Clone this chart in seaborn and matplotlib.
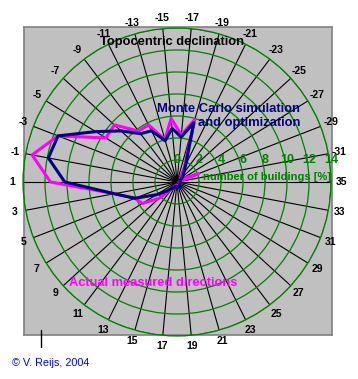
import numpy as np
import pandas as pd
import seaborn as sns
import matplotlib
matplotlib.use('Agg')
import matplotlib.pyplot as plt
from matplotlib.transforms import ScaledTranslation
from matplotlib.lines import Line2D

# declination categories, counter-clockwise starting just above east
declination = [-31, -29, -27, -25, -23, -21, -19, -17, -15, -13, -11, -9, -7, -5, -3, -1,
               1, 3, 5, 7, 9, 11, 13, 15, 17, 19, 21, 23, 25, 27, 29, 31, 33, 35]

# percentage of buildings per declination
measured = [0.2, 2.1, 0.5, 0.4, 0.6, 1.5, 5.9, 4.3, 5.8, 4.0, 5.8, 5.8, 7.7, 7.6, 11.6, 13.4,
            11.5, 5.8, 4.1, 3.7, 2.2, 0.8, 0.4, 0.3, 0.3, 0.3, 0.3, 0.3, 0.3, 0.3, 0.3, 0.3, 0.3, 0.2]
monte_carlo = [0.3, 0.3, 0.4, 0.7, 1.0, 1.8, 5.6, 4.1, 4.9, 3.9, 5.2, 5.5, 6.9, 8.7, 11.6, 11.9,
               10.2, 5.8, 4.1, 2.2, 1.2, 0.7, 0.5, 0.4, 0.4, 0.5, 0.5, 0.6, 0.4, 0.3, 0.3, 0.3, 0.3, 0.3]

r_ticks = [0, 2, 4, 6, 8, 10, 12, 14]

sns.set_style('white')
plt.rcParams['font.family'] = ['Liberation Sans', 'DejaVu Sans']

W, H = 358, 379
fig = plt.figure(figsize=(W / 100, H / 100), dpi=100)

n = len(declination)
theta = [2 * np.pi * (i + 1) / n for i in range(n)]

rows = []
for name, vals in [('measured', measured), ('monte', monte_carlo)]:
    for t, v in zip(theta + [theta[0]], vals + [vals[0]]):
        rows.append({'theta': t, 'value': v, 'series': name})
df = pd.DataFrame(rows)

# grey plot area behind the radar
bg = fig.add_axes([24 / W, 44 / H, 308 / W, 308 / H])
bg.set_facecolor('#c0c0c0')
bg.set_xticks([])
bg.set_yticks([])
for s in bg.spines.values():
    s.set_color('#808080')
    s.set_linewidth(1.2)

ax = fig.add_axes([23 / W, 43 / H, 308 / W, 308 / H], projection='polar')
ax.set_facecolor('none')

sns.lineplot(data=df, x='theta', y='value', hue='series', hue_order=['measured', 'monte'],
             palette={'measured': '#ff00ff', 'monte': '#000080'}, sort=False, estimator=None,
             linewidth=2.2, legend=False, ax=ax)

ax.set_xlim(0, 2 * np.pi)
ax.set_ylim(0, 14)
ax.set_xlabel('')
ax.set_ylabel('')
ax.set_xticks(theta)
ax.set_xticklabels([])
ax.set_yticks(r_ticks)
ax.set_yticklabels([])
ax.xaxis.grid(True, color='black', linewidth=0.8)
ax.yaxis.grid(True, color='#008000', linewidth=0.9)
ax.spines['polar'].set_color('#008000')
ax.spines['polar'].set_linewidth(0.9)

# category labels just outside the outer circle
for t, d in zip(theta, declination):
    ax.text(t, 15.0, str(d), ha='center', va='center', fontsize=7.5,
            fontweight='bold', color='black')

# radial value labels, shifted above the east spoke
shift = ax.transData + ScaledTranslation(0, 22 / 100, fig.dpi_scale_trans)
for v in r_ticks:
    ax.text(0, v, str(v), transform=shift, ha='center', va='center',
            color='#008000', fontsize=9, fontweight='bold')

fig.text(100 / W, 1 - 42 / H, 'Topocentric declination', ha='left', va='center',
         fontsize=9.3, fontweight='bold', color='black')
fig.text(300 / W, 1 - 116 / H, 'Monte Carlo simulation\nand optimization', ha='right', va='center',
         multialignment='right', linespacing=1.15, fontsize=9.4, fontweight='bold', color='#000080')
fig.text(203 / W, 1 - 177 / H, 'number of buildings [%]', ha='left', va='center',
         fontsize=8, fontweight='bold', color='#008000')
fig.text(69 / W, 1 - 283 / H, 'Actual measured directions', ha='left', va='center',
         fontsize=9.3, fontweight='bold', color='#ff00ff')
fig.text(12 / W, 1 - 363 / H, '\u00a9 V. Reijs, 2004', ha='left', va='center',
         fontsize=7.8, color='#0000ff')

fig.add_artist(Line2D([41 / W, 41 / W], [1 - 330 / H, 1 - 347 / H], color='black', linewidth=1))

fig.savefig('out.png', dpi=100)
